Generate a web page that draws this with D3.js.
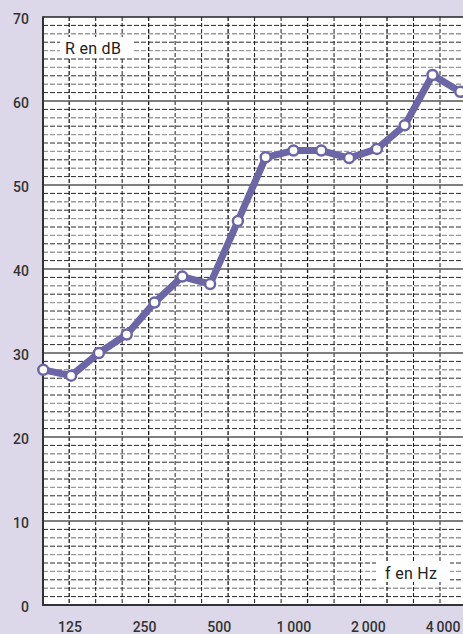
<!DOCTYPE html>
<html>
<head>
<meta charset="utf-8">
<script src="https://cdn.jsdelivr.net/npm/d3@7"></script>
<style>
  html, body { margin: 0; padding: 0; background: #dcd8ea; }
  svg { display: block; }
  text { font-family: Roboto, "Noto Sans", sans-serif; }
</style>
</head>
<body>
<svg id="chart" width="463" height="634"></svg>
<script>
// third-octave bands (Hz) and sound reduction index R (dB)
const bands = ["100","125","160","200","250","315","400","500","630","800","1000","1250","1600","2000","2500","3150"];
const values = [28, 27.3, 30, 32.2, 36, 39.1, 38.2, 45.7, 53.3, 54.1, 54.1, 53.2, 54.3, 57.1, 63.1, 61.1];
const xTickLabels = ["125", "250", "500", "1\u2009000", "2\u2009000", "4\u2009000"];
const xTickBandIndex = [1, 4, 7, 10, 13, 16];
const yTicks = [0, 10, 20, 30, 40, 50, 60, 70];
const yLabel = "R en dB";
const xLabel = "f en Hz";

(function () {
const W = 463, H = 634;
const pLeft = 43, pTop = 17, pBottom = 605, pRight = W;

const svg = d3.select("#chart");
svg.append("rect").attr("width", W).attr("height", H).attr("fill", "#dcd8ea");

const y = d3.scaleLinear().domain([0, 70]).range([pBottom, pTop]);
// point positions (band index)
const xPt = d3.scaleLinear().domain([0, 15]).range([43.3, 460.3]);
// grid positions (band index)
const xGrid = d3.scaleLinear().domain([0, 15]).range([42.7, 440]);
// tick label positions (band index)
const xLab = d3.scaleLinear().domain([1, 16]).range([70, 443]);

// plot area
svg.append("rect").attr("x", pLeft).attr("y", pTop)
  .attr("width", pRight - pLeft).attr("height", pBottom - pTop).attr("fill", "#ffffff");

const grid = svg.append("g");
// minor horizontal lines every 1 dB
const minor = d3.range(1, 70).filter(v => v % 10 !== 0);
grid.selectAll("line.hmin").data(minor).join("line")
  .attr("x1", pLeft).attr("x2", pRight)
  .attr("y1", d => y(d)).attr("y2", d => y(d))
  .attr("stroke", d => (d % 2 === 0) ? "#9a9a9a" : "#2a2a2a")
  .attr("stroke-width", d => (d % 2 === 0) ? 1.4 : 1)
  .attr("stroke-dasharray", "5,2");
// vertical grid lines
const vIdx = d3.range(1, 17);
grid.selectAll("line.v").data(vIdx).join("line")
  .attr("x1", d => xGrid(d)).attr("x2", d => xGrid(d))
  .attr("y1", pTop).attr("y2", pBottom)
  .attr("stroke", "#1a1a1a")
  .attr("stroke-width", d => (d % 3 === 1) ? 1.3 : 1)
  .attr("stroke-dasharray", "4,2");
// major horizontal lines
grid.selectAll("line.hmaj").data(yTicks.filter(v => v > 0 && v < 70)).join("line")
  .attr("x1", pLeft).attr("x2", pRight)
  .attr("y1", d => y(d)).attr("y2", d => y(d))
  .attr("stroke", "#555").attr("stroke-width", 1.6);

// label boxes
svg.append("rect").attr("x", 60).attr("y", 37).attr("width", 72).attr("height", 20).attr("fill", "#fff");
svg.append("text").attr("x", 65).attr("y", 53.5).attr("font-size", 16)
  .attr("fill", "#222").attr("letter-spacing", 0.3).text(yLabel);
svg.append("rect").attr("x", 376).attr("y", 561).attr("width", 74).attr("height", 21).attr("fill", "#fff");
svg.append("text").attr("x", 385).attr("y", 579).attr("font-size", 16)
  .attr("fill", "#222").attr("letter-spacing", 0.3).text(xLabel);

// frame
svg.append("line").attr("x1", pLeft).attr("x2", pRight).attr("y1", y(70)).attr("y2", y(70))
  .attr("stroke", "#222").attr("stroke-width", 1.6);
svg.append("line").attr("x1", pLeft).attr("x2", pRight).attr("y1", y(0)).attr("y2", y(0))
  .attr("stroke", "#333").attr("stroke-width", 2);
svg.append("line").attr("x1", pLeft).attr("x2", pLeft).attr("y1", pTop - 0.8).attr("y2", pBottom + 1)
  .attr("stroke", "#333").attr("stroke-width", 2);

// y tick labels
svg.append("g").selectAll("text").data(yTicks).join("text")
  .attr("x", 29).attr("y", d => y(d) + 7)
  .attr("text-anchor", "end").attr("font-size", 14).attr("font-weight", 500)
  .attr("fill", "#333").text(d => d);

// x tick labels
svg.append("g").selectAll("text").data(xTickLabels).join("text")
  .attr("x", (d, i) => xLab(xTickBandIndex[i])).attr("y", 632)
  .attr("text-anchor", "middle").attr("font-size", 14).attr("font-weight", 500)
  .attr("fill", "#333").text(d => d);

// data line
const line = d3.line().x((d, i) => xPt(i)).y(d => y(d));
svg.append("path").datum(values).attr("d", line)
  .attr("fill", "none").attr("stroke", "#6c65a6").attr("stroke-width", 7)
  .attr("stroke-linejoin", "round").attr("stroke-linecap", "round");
svg.append("g").selectAll("circle").data(values).join("circle")
  .attr("cx", (d, i) => xPt(i)).attr("cy", d => y(d)).attr("r", 5)
  .attr("fill", "#fff").attr("stroke", "#6c65a6").attr("stroke-width", 2.5);
})();
</script>
</body>
</html>
